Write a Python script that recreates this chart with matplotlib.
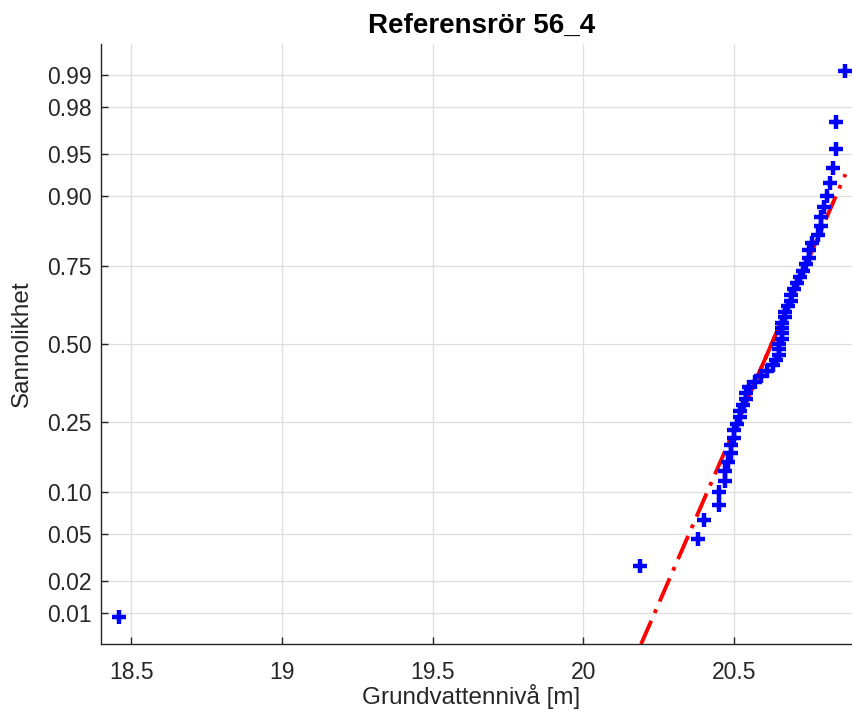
import numpy as np
import matplotlib
matplotlib.use("Agg")
import matplotlib.pyplot as plt
from matplotlib.ticker import FixedLocator, FixedFormatter, NullLocator
from statistics import NormalDist

# Groundwater levels (m), sorted
levels = [
    18.46, 20.19, 20.38, 20.40, 20.45, 20.45, 20.47, 20.47, 20.48, 20.49,
    20.49, 20.50, 20.50, 20.51, 20.52, 20.52, 20.53, 20.54, 20.54, 20.55,
    20.57, 20.59, 20.61, 20.63, 20.64, 20.65, 20.65, 20.65, 20.66, 20.66,
    20.66, 20.66, 20.67, 20.67, 20.68, 20.69, 20.69, 20.70, 20.71, 20.72,
    20.73, 20.74, 20.75, 20.75, 20.76, 20.78, 20.79, 20.79, 20.80, 20.81,
    20.82, 20.83, 20.84, 20.84, 20.87,
]
prob_ticks = [0.01, 0.02, 0.05, 0.10, 0.25, 0.50, 0.75, 0.90, 0.95, 0.98, 0.99]
prob_labels = ["0.01", "0.02", "0.05", "0.10", "0.25", "0.50", "0.75", "0.90", "0.95", "0.98", "0.99"]
x_ticks = [18.5, 19, 19.5, 20, 20.5]
x_labels = ["18.5", "19", "19.5", "20", "20.5"]

ND = NormalDist()
Z_LIM = 2.595


def to_z(p):
    p = np.asarray(p, dtype=float)
    out = np.full(p.shape, np.nan)
    ok = (p > 0) & (p < 1)
    out[ok] = [ND.inv_cdf(float(v)) for v in p[ok]]
    return out


def from_z(z):
    z = np.asarray(z, dtype=float)
    out = np.full(z.shape, np.nan)
    ok = np.isfinite(z)
    out[ok] = [ND.cdf(float(v)) for v in z[ok]]
    return out


plt.rcParams["font.family"] = ["Liberation Sans", "DejaVu Sans"]

x = np.sort(np.array(levels))
n = len(x)
p = (np.arange(1, n + 1) - 0.5) / n

# Reference line through the quartiles
q1, q3 = np.percentile(x, [25, 75], method="hazen")
z1, z3 = ND.inv_cdf(0.25), ND.inv_cdf(0.75)
slope = (z3 - z1) / (q3 - q1)


def line_p(xv):
    return from_z(z1 + slope * (np.asarray(xv, dtype=float) - q1))


fig = plt.figure(figsize=(8.53, 7.22), dpi=100)
ax = fig.add_axes([101 / 853, 78 / 722, 761 / 853, 600 / 722])
ax.set_yscale("function", functions=(to_z, from_z))

# dash-dot extension over the data range, limited to the visible probability range
x_lo = max(x.min(), q1 + (-Z_LIM - z1) / slope)
x_hi = min(x.max(), q1 + (Z_LIM - z1) / slope)
xe = np.linspace(x_lo, x_hi, 50)
ax.plot(xe, line_p(xe), color="red", lw=2.8, linestyle=(0, (6.5, 2.2, 1, 2.2)), zorder=2)
xq = np.linspace(q1, q3, 20)
ax.plot(xq, line_p(xq), color="red", lw=2.8, linestyle="-", zorder=2)
ax.plot(x, p, linestyle="none", marker="+", color="blue", ms=10.5, mew=3.2, zorder=3)

ax.set_xlim(18.40, 20.925)
ax.set_ylim(ND.cdf(-Z_LIM), ND.cdf(Z_LIM))

ax.yaxis.set_major_locator(FixedLocator(prob_ticks))
ax.yaxis.set_major_formatter(FixedFormatter(prob_labels))
ax.yaxis.set_minor_locator(NullLocator())
ax.xaxis.set_major_locator(FixedLocator(x_ticks))
ax.xaxis.set_major_formatter(FixedFormatter(x_labels))
ax.xaxis.set_minor_locator(NullLocator())

ax.grid(True, color="#dedede", lw=0.9)
ax.set_axisbelow(True)
for s in ("top", "right"):
    ax.spines[s].set_visible(False)
for s in ("left", "bottom"):
    ax.spines[s].set_color("#262626")
    ax.spines[s].set_linewidth(1.0)
ax.tick_params(direction="in", length=5, width=1, colors="#262626",
               labelsize=16.5, pad=7)
ax.tick_params(axis="x", pad=12)

ax.set_title("Referensrör 56_4", fontsize=20, fontweight="bold", pad=8)
ax.set_xlabel("Grundvattennivå [m]", fontsize=17.5, color="#262626")
ax.set_ylabel("Sannolikhet", fontsize=17.5, color="#262626")
ax.xaxis.set_label_coords(0.487, -0.066)
ax.yaxis.set_label_coords(-0.089, 0.5)

fig.savefig("out.png", dpi=100)
